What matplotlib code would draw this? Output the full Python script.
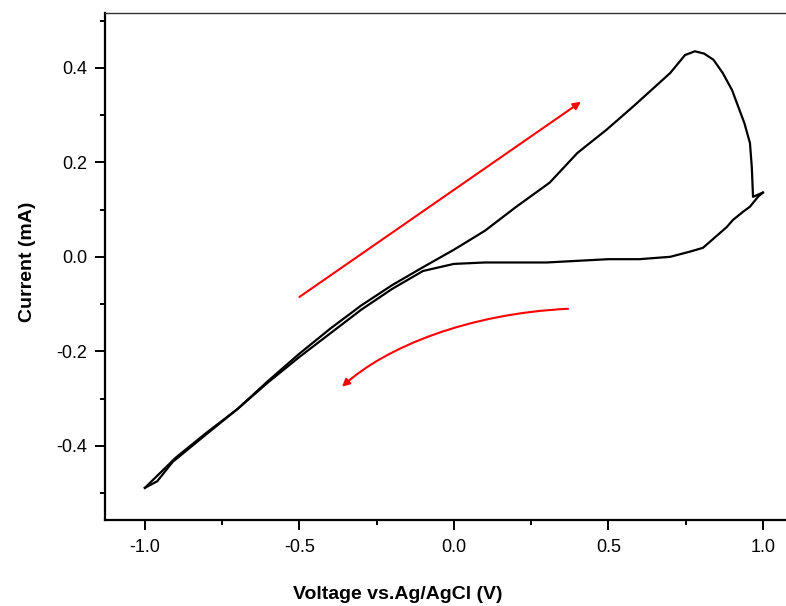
import matplotlib
matplotlib.use('Agg')
import matplotlib.pyplot as plt
from matplotlib.patches import FancyArrowPatch
from matplotlib.path import Path
from matplotlib.ticker import MultipleLocator

plt.rcParams['font.family'] = ['Liberation Sans', 'DejaVu Sans']

# anodic sweep, -1.0 V -> +1.0 V
v_fwd = [-1.0, -0.96, -0.91, -0.8, -0.7, -0.6, -0.5, -0.4, -0.3, -0.2, -0.1,
         0.0, 0.1, 0.2, 0.31, 0.4, 0.494, 0.58, 0.7, 0.748, 0.78, 0.81, 0.84,
         0.87, 0.9, 0.94, 0.958, 0.964, 0.968, 1.0]
i_fwd = [-0.489, -0.475, -0.434, -0.375, -0.322, -0.262, -0.205, -0.152, -0.103,
         -0.060, -0.022, 0.015, 0.055, 0.105, 0.157, 0.22, 0.269, 0.318, 0.389,
         0.427, 0.435, 0.430, 0.417, 0.389, 0.353, 0.283, 0.241, 0.19, 0.127, 0.136]

# cathodic sweep, +1.0 V -> -1.0 V
v_rev = [1.0, 0.984, 0.958, 0.935, 0.903, 0.883, 0.806, 0.764, 0.7, 0.6, 0.5,
         0.3, 0.1, 0.0, -0.1, -0.2, -0.3, -0.4, -0.5, -0.6, -0.7, -0.8, -0.9, -1.0]
i_rev = [0.136, 0.127, 0.106, 0.095, 0.078, 0.063, 0.019, 0.011, 0.0, -0.005,
         -0.005, -0.012, -0.012, -0.015, -0.03, -0.068, -0.112, -0.162, -0.212,
         -0.265, -0.322, -0.372, -0.425, -0.489]

# scan direction arrows
up_start = (-0.5, -0.085)
up_end = (0.411, 0.328)
# curved one: start, two bezier controls, end
down_v = [0.369, 0.05, -0.22, -0.362]
down_i = [-0.110, -0.12, -0.19, -0.275]

fig = plt.figure(figsize=(7.86, 6.06), dpi=100)
ax = fig.add_axes([105 / 786, 86 / 606, 695 / 786, 507 / 606])

ax.plot(v_fwd, i_fwd, color='black', lw=1.6)
ax.plot(v_rev, i_rev, color='black', lw=1.6)

ax.annotate('', xy=up_end, xytext=up_start,
            arrowprops=dict(arrowstyle='-|>', color='red', lw=1.5,
                            mutation_scale=11, shrinkA=0, shrinkB=0))

verts = list(zip(down_v, down_i))
path = Path(verts, [Path.MOVETO, Path.CURVE4, Path.CURVE4, Path.CURVE4])
arr = FancyArrowPatch(path=path, arrowstyle='-|>', color='red', lw=1.5,
                      mutation_scale=11, transform=ax.transData)
ax.add_patch(arr)

ax.set_xlim(-1.129, 1.12)
ax.set_ylim(-0.557, 0.516)

ax.xaxis.set_major_locator(MultipleLocator(0.5))
ax.xaxis.set_minor_locator(MultipleLocator(0.25))
ax.yaxis.set_major_locator(MultipleLocator(0.2))
ax.yaxis.set_minor_locator(MultipleLocator(0.1))
ax.xaxis.set_major_formatter(lambda x, p: f'{x:.1f}')
ax.yaxis.set_major_formatter(lambda x, p: f'{x:.1f}')

ax.tick_params(which='major', direction='out', length=7, width=1.4,
               labelsize=13, pad=6)
ax.tick_params(which='minor', direction='out', length=3.6, width=1.4)
ax.tick_params(axis='x', which='major', pad=7)

for side in ['left', 'bottom']:
    ax.spines[side].set_linewidth(1.6)
ax.spines['top'].set_linewidth(1.0)
ax.spines['top'].set_color('#333333')
ax.spines['right'].set_visible(False)

ax.set_ylabel('Current (mA)', fontsize=14, fontweight='bold')
ax.yaxis.set_label_coords(-0.099, 0.51)
ax.set_xlabel('Voltage vs.Ag/AgCl (V)', fontsize=14, fontweight='bold')
ax.xaxis.set_label_coords(0.4216, -0.131)

fig.savefig('out.png', dpi=100)
